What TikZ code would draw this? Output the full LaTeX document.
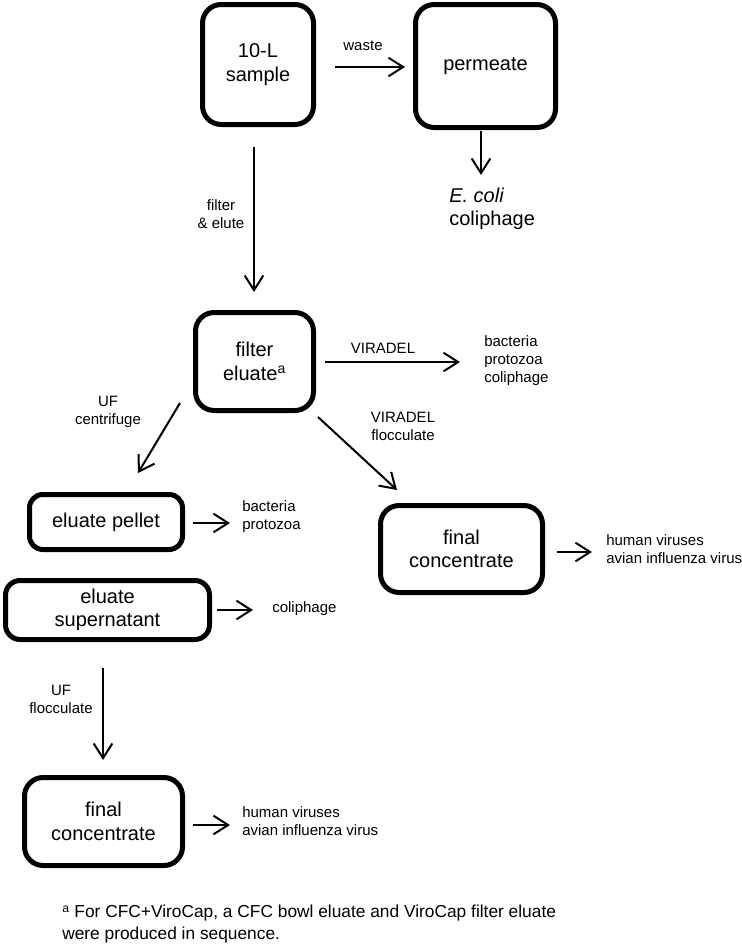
\documentclass[tikz,border=0pt]{standalone}
\usepackage{fontspec}
\setmainfont{Liberation Sans}
\usetikzlibrary{arrows.meta}
\begin{document}
\begin{tikzpicture}[x=0.75pt,y=-0.75pt,
  box/.style={draw,line width=3.75pt,rounded corners=14pt,align=center,
    font=\fontsize{15}{17.5}\selectfont,inner sep=0pt},
  lbl/.style={align=center,font=\fontsize{11.25}{13.5}\selectfont,inner sep=0pt},
  res/.style={align=left,anchor=west,font=\fontsize{11.25}{13.5}\selectfont,inner sep=0pt},
  arr/.style={line width=1.5pt,-{Straight Barb[length=11pt,width=14pt]}}]
\useasboundingbox (0,0) rectangle (742,946);
% boxes
\node[box,minimum width=83.25pt,minimum height=90pt] (sample) at (258,64.5) {10-L\\sample};
\node[box,minimum width=105pt,minimum height=92.25pt] (perm) at (485.5,66) {permeate};
\node[box,minimum width=88.5pt,minimum height=73.5pt] (fe) at (254.5,361.5) {filter\\eluate\textsuperscript{a}};
\node[box,minimum width=114.75pt,minimum height=41.25pt,rounded corners=10pt] (pel) at (106,522) {eluate pellet};
\node[box,minimum width=121.5pt,minimum height=65.25pt] (fc1) at (461.5,549) {final\\concentrate};
\node[box,minimum width=153pt,minimum height=44.25pt,rounded corners=11pt] (sup) at (107.5,610) {eluate\\supernatant};
\node[box,minimum width=118.5pt,minimum height=66pt] (fc2) at (103.5,821.5) {final\\concentrate};
% labels
\node[lbl] (lwaste) at (363,46) {waste};
\node[res,font=\fontsize{15}{17.5}\selectfont] (ecoli) at (449,208.5) {\textit{E. coli}\\coliphage};
\node[lbl] (lfe) at (221,214.5) {filter\\\& elute};
\node[lbl] (lvir) at (383,348) {VIRADEL};
\node[res] (bpc) at (484,360.5) {bacteria\\protozoa\\coliphage};
\node[lbl] (lufc) at (108,411.5) {UF\\centrifuge};
\node[lbl] (lvf) at (403,426.5) {VIRADEL\\flocculate};
\node[res] (bp) at (242,517) {bacteria\\protozoa};
\node[res] (hv1) at (606,549) {human viruses\\avian influenza virus};
\node[res] (col) at (272,609) {coliphage};
\node[lbl] (luff) at (61,699) {UF\\flocculate};
\node[res] (hv2) at (242,821) {human viruses\\avian influenza virus};
\node[res,font=\fontsize{13}{16}\selectfont] (fn) at (62,924) {\textsuperscript{a} For CFC+ViroCap, a CFC bowl eluate and ViroCap filter eluate\\were produced in sequence.};
% arrows
\draw[arr] ([shift={(19,2.5)}]sample.east) -- ([shift={(-8,1)}]perm.west);
\draw[arr] ([shift={(-4.5,1)}]perm.south) -- ([shift={(-4.5,45)}]perm.south);
\draw[arr] ([shift={(-4,20)}]sample.south) -- ([shift={(-0.5,-18)}]fe.north);
\draw[arr] ([shift={(9,0.5)}]fe.east) -- ([shift={(-24,1.5)}]bpc.west);
\draw[arr] ([shift={(-13,-10)}]fe.south west) -- ([shift={(32,-19)}]pel.north);
\draw[arr] ([shift={(2,4)}]fe.south east) -- ([shift={(19,-13)}]fc1.north west);
\draw[arr] ([shift={(8,1)}]pel.east) -- ([shift={(-12,6)}]bp.west);
\draw[arr] ([shift={(12,3)}]fc1.east) -- ([shift={(-14,3)}]hv1.west);
\draw[arr] ([shift={(5,0)}]sup.east) -- ([shift={(-19,1)}]col.west);
\draw[arr] ([shift={(-4.5,26)}]sup.south) -- ([shift={(-0.5,-15)}]fc2.north);
\draw[arr] ([shift={(8,3.5)}]fc2.east) -- ([shift={(-12,4)}]hv2.west);
\end{tikzpicture}
\end{document}
